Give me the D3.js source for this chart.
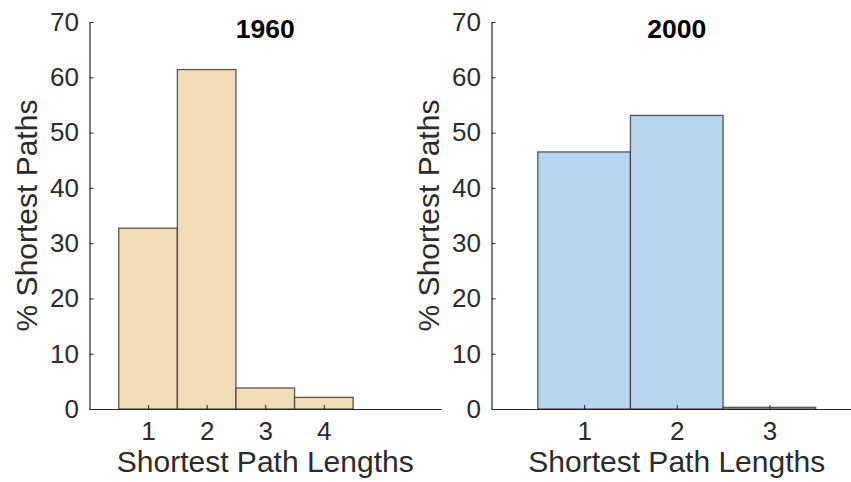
<!DOCTYPE html>
<html>
<head>
<meta charset="utf-8">
<script src="https://cdn.jsdelivr.net/npm/d3@7"></script>
<style>
  html, body { margin: 0; padding: 0; background: #fff; }
  svg { display: block; font-family: "Liberation Sans", Arial, Helvetica, sans-serif; }
  .tick text { fill: #2b2b2b; }
  .domain, .tick line { stroke: #262626; }
</style>
</head>
<body>
<svg id="chart" width="851" height="482"></svg>
<script>
// Shortest path length distributions, one histogram per year
const lengths1960 = [1, 2, 3, 4];
const share1960 = [32.7, 61.4, 3.8, 2.1];
const lengths2000 = [1, 2, 3];
const share2000 = [46.5, 53.1, 0.3];
const yTicks = [0, 10, 20, 30, 40, 50, 60, 70];
const titles = ["1960", "2000"];
const xLabel = "Shortest Path Lengths";
const yLabel = "% Shortest Paths";

const panels = [
  { title: titles[0], cats: lengths1960, vals: share1960, xMax: 6, left: 89.5, right: 441, fill: "#f2dcb8" },
  { title: titles[1], cats: lengths2000, vals: share2000, xMax: 4, left: 491.5, right: 862, fill: "#b9d4f1" }
];

const svg = d3.select("#chart");
const plotTop = 22, plotBottom = 409;

panels.forEach(p => {
  const x = d3.scaleLinear().domain([0, p.xMax]).range([p.left, p.right]);
  const y = d3.scaleLinear().domain([0, 70]).range([plotBottom, plotTop]);
  const g = svg.append("g");

  // histogram bars, each bin one unit wide centred on its length
  g.selectAll("rect.bar")
    .data(p.cats.map((c, i) => ({ c, v: p.vals[i] })))
    .join("rect")
    .attr("class", "bar")
    .attr("x", d => x(d.c - 0.5))
    .attr("width", d => x(d.c + 0.5) - x(d.c - 0.5))
    .attr("y", d => y(d.v))
    .attr("height", d => y(0) - y(d.v))
    .attr("fill", p.fill)
    .attr("stroke", "#3c3c3c")
    .attr("stroke-opacity", 0.85)
    .attr("stroke-width", 1.3);

  // y axis with inward ticks
  const ya = g.append("g")
    .attr("transform", `translate(${p.left},0)`)
    .call(d3.axisLeft(y).tickValues(yTicks).tickFormat(d3.format("d"))
      .tickSizeInner(-4).tickSizeOuter(0).tickPadding(10.5));
  ya.selectAll("text").attr("font-size", 26);

  // x axis with inward ticks
  const xa = g.append("g")
    .attr("transform", `translate(0,${plotBottom})`)
    .call(d3.axisBottom(x).tickValues(p.cats).tickFormat(d3.format("d"))
      .tickSizeInner(-4).tickSizeOuter(0).tickPadding(12.3));
  xa.selectAll("text").attr("font-size", 26);
  g.selectAll(".domain").attr("stroke-width", 1.2);

  // title
  g.append("text")
    .attr("x", (p.left + p.right) / 2)
    .attr("y", 37.5)
    .attr("text-anchor", "middle")
    .attr("font-size", 26.5)
    .attr("font-weight", "bold")
    .attr("fill", "#000")
    .text(p.title);

  // axis labels
  g.append("text")
    .attr("x", (p.left + p.right) / 2)
    .attr("y", 471.5)
    .attr("text-anchor", "middle")
    .attr("font-size", 30)
    .attr("fill", "#2b2b2b")
    .text(xLabel);

  g.append("text")
    .attr("transform", `translate(${p.left - 52.5},${(plotTop + plotBottom) / 2}) rotate(-90)`)
    .attr("text-anchor", "middle")
    .attr("font-size", 30)
    .attr("fill", "#2b2b2b")
    .text(yLabel);
});
</script>
</body>
</html>
